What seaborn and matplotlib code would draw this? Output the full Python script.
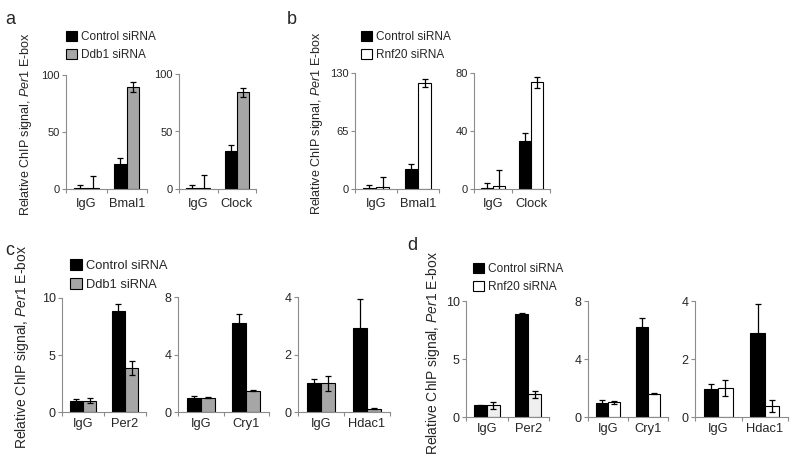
import pandas as pd
import matplotlib
matplotlib.use("Agg")
import matplotlib.pyplot as plt
from matplotlib.patches import Patch
import seaborn as sns


#### VALUES ####
# a : Ddb1 knockdown, Bmal1 / Clock ChIP
a_bmal_groups = ["IgG", "Bmal1"]
a_bmal_ctrl = [1.0, 22.0]
a_bmal_ctrl_err = [2.9, 5.5]
a_bmal_kd = [1.0, 89.5]
a_bmal_kd_err = [10.5, 4.5]

a_clock_groups = ["IgG", "Clock"]
a_clock_ctrl = [1.0, 33.0]
a_clock_ctrl_err = [2.5, 5.0]
a_clock_kd = [1.0, 84.0]
a_clock_kd_err = [11.0, 4.0]

# b : Rnf20 knockdown, Bmal1 / Clock ChIP
b_bmal_groups = ["IgG", "Bmal1"]
b_bmal_ctrl = [1.0, 22.0]
b_bmal_ctrl_err = [3.0, 5.5]
b_bmal_kd = [2.0, 119.0]
b_bmal_kd_err = [11.0, 4.5]

b_clock_groups = ["IgG", "Clock"]
b_clock_ctrl = [1.0, 33.0]
b_clock_ctrl_err = [3.0, 5.3]
b_clock_kd = [2.0, 73.5]
b_clock_kd_err = [11.0, 4.0]

# c : Ddb1 knockdown, Per2 / Cry1 / Hdac1 ChIP
c_per2_groups = ["IgG", "Per2"]
c_per2_ctrl = [1.0, 8.9]
c_per2_ctrl_err = [0.13, 0.6]
c_per2_kd = [1.0, 3.85]
c_per2_kd_err = [0.22, 0.63]

c_cry1_groups = ["IgG", "Cry1"]
c_cry1_ctrl = [0.97, 6.2]
c_cry1_ctrl_err = [0.15, 0.6]
c_cry1_kd = [0.99, 1.48]
c_cry1_kd_err = [0.03, 0.04]

c_hdac1_groups = ["IgG", "Hdac1"]
c_hdac1_ctrl = [1.0, 2.92]
c_hdac1_ctrl_err = [0.14, 1.0]
c_hdac1_kd = [1.0, 0.12]
c_hdac1_kd_err = [0.26, 0.02]

# d : Rnf20 knockdown, Per2 / Cry1 / Hdac1 ChIP
d_per2_groups = ["IgG", "Per2"]
d_per2_ctrl = [1.0, 8.9]
d_per2_ctrl_err = [0.02, 0.1]
d_per2_kd = [1.0, 1.96]
d_per2_kd_err = [0.32, 0.28]

d_cry1_groups = ["IgG", "Cry1"]
d_cry1_ctrl = [1.0, 6.2]
d_cry1_ctrl_err = [0.15, 0.62]
d_cry1_kd = [1.02, 1.62]
d_cry1_kd_err = [0.1, 0.05]

d_hdac1_groups = ["IgG", "Hdac1"]
d_hdac1_ctrl = [0.98, 2.9]
d_hdac1_ctrl_err = [0.15, 1.0]
d_hdac1_kd = [1.0, 0.38]
d_hdac1_kd_err = [0.28, 0.2]

ctrl_label = "Control siRNA"
ddb1_label = "Ddb1 siRNA"
rnf20_label = "Rnf20 siRNA"


sns.set_style("ticks")
plt.rcParams["font.family"] = ["Liberation Sans", "DejaVu Sans"]
plt.rcParams["mathtext.fontset"] = "custom"
plt.rcParams["mathtext.rm"] = "Liberation Sans"
plt.rcParams["mathtext.it"] = "Liberation Sans:italic"

W, H = 800, 461
fig = plt.figure(figsize=(8, 4.61), dpi=100)


def px_axes(x0, x1, ytop, yzero):
    return fig.add_axes([x0 / W, 1 - yzero / H, (x1 - x0) / W, (yzero - ytop) / H])


def draw_sub(ax, groups, ctrl, ctrl_err, kd, kd_err, kd_label, kd_color, yticks, tsize, xpad):
    df = pd.DataFrame({
        "target": groups + groups,
        "value": ctrl + kd,
        "cond": [ctrl_label] * len(groups) + [kd_label] * len(groups),
    })
    sns.barplot(data=df, x="target", y="value", hue="cond",
                palette=["black", kd_color], width=0.62, edgecolor="black",
                linewidth=0.8, errorbar=None, legend=False, ax=ax,
                saturation=1)
    for cont, errs in zip(ax.containers, [ctrl_err, kd_err]):
        xs = [b.get_x() + b.get_width() / 2 for b in cont]
        hs = [b.get_height() for b in cont]
        ax.errorbar(xs, hs, yerr=errs, fmt="none", ecolor="black",
                    elinewidth=0.9, capsize=2.5, capthick=0.9, zorder=3)
    ax.set_xlim(-0.5, len(groups) - 0.5)
    ax.set_ylim(0, yticks[-1])
    ax.set_yticks(yticks)
    ax.set_xticks(range(len(groups)))
    ax.set_xticks([i - 0.5 for i in range(len(groups) + 1)], minor=True)
    ax.tick_params(axis="x", which="major", length=0, pad=xpad, labelsize=9.3)
    ax.tick_params(axis="x", which="minor", length=3, color="#8c8c8c", width=0.8)
    ax.tick_params(axis="y", length=3, pad=1.5, labelsize=tsize, color="#8c8c8c", width=0.8)
    ax.set_xlabel("")
    ax.set_ylabel("")
    sns.despine(ax=ax)
    for s in ["left", "bottom"]:
        ax.spines[s].set_color("#8c8c8c")
        ax.spines[s].set_linewidth(0.8)
    ax.patch.set_alpha(0)


def add_legend(x, y, kd_label, kd_color, size):
    handles = [Patch(facecolor="black", edgecolor="black", linewidth=0.8),
               Patch(facecolor=kd_color, edgecolor="black", linewidth=0.8)]
    fig.legend(handles, [ctrl_label, kd_label], loc="upper left",
               bbox_to_anchor=(x / W, 1 - y / H), frameon=False,
               handlelength=0.9, handleheight=0.9, handletextpad=0.35,
               labelspacing=0.5, borderpad=0, borderaxespad=0, fontsize=size)


ylab = "Relative ChIP signal, $\\it{Per1}$ E-box"
gray = "#a6a6a6"

#### a ####
ax = px_axes(66, 147, 75, 189)
draw_sub(ax, a_bmal_groups, a_bmal_ctrl, a_bmal_ctrl_err, a_bmal_kd, a_bmal_kd_err,
         ddb1_label, gray, [0, 50, 100], 8, 6.5)
ax = px_axes(179, 256, 74, 189)
draw_sub(ax, a_clock_groups, a_clock_ctrl, a_clock_ctrl_err, a_clock_kd, a_clock_kd_err,
         ddb1_label, gray, [0, 50, 100], 8, 6.5)
add_legend(66, 31, ddb1_label, gray, 8.5)
fig.text(26 / W, 1 - 124 / H, ylab, rotation=90, ha="center", va="center", fontsize=9)
fig.text(5 / W, 1 - 19 / H, "a", ha="left", va="center", fontsize=13)

#### b ####
ax = px_axes(355, 439, 73, 189)
draw_sub(ax, b_bmal_groups, b_bmal_ctrl, b_bmal_ctrl_err, b_bmal_kd, b_bmal_kd_err,
         rnf20_label, "white", [0, 65, 130], 8, 6.5)
ax = px_axes(474, 550, 73, 189)
draw_sub(ax, b_clock_groups, b_clock_ctrl, b_clock_ctrl_err, b_clock_kd, b_clock_kd_err,
         rnf20_label, "white", [0, 40, 80], 8, 6.5)
add_legend(361, 31, rnf20_label, "white", 8.5)
fig.text(317 / W, 1 - 123 / H, ylab, rotation=90, ha="center", va="center", fontsize=9)
fig.text(287 / W, 1 - 19 / H, "b", ha="left", va="center", fontsize=13)

#### c ####
ax = px_axes(62, 146, 298, 412)
draw_sub(ax, c_per2_groups, c_per2_ctrl, c_per2_ctrl_err, c_per2_kd, c_per2_kd_err,
         ddb1_label, gray, [0, 5, 10], 9, 4.5)
ax = px_axes(178, 269, 297, 412)
draw_sub(ax, c_cry1_groups, c_cry1_ctrl, c_cry1_ctrl_err, c_cry1_kd, c_cry1_kd_err,
         ddb1_label, gray, [0, 4, 8], 9, 4.5)
ax = px_axes(298, 390, 297, 412)
draw_sub(ax, c_hdac1_groups, c_hdac1_ctrl, c_hdac1_ctrl_err, c_hdac1_kd, c_hdac1_kd_err,
         ddb1_label, gray, [0, 2, 4], 9, 4.5)
add_legend(70, 259, ddb1_label, gray, 9.3)
fig.text(22 / W, 1 - 347 / H, ylab, rotation=90, ha="center", va="center", fontsize=10)
fig.text(5 / W, 1 - 250 / H, "c", ha="left", va="center", fontsize=13)

#### d ####
ax = px_axes(466, 549, 301, 417)
draw_sub(ax, d_per2_groups, d_per2_ctrl, d_per2_ctrl_err, d_per2_kd, d_per2_kd_err,
         rnf20_label, "#efefef", [0, 5, 10], 9, 4.5)
ax = px_axes(588, 668, 301, 417)
draw_sub(ax, d_cry1_groups, d_cry1_ctrl, d_cry1_ctrl_err, d_cry1_kd, d_cry1_kd_err,
         rnf20_label, "white", [0, 4, 8], 9, 4.5)
ax = px_axes(695, 788, 301, 417)
draw_sub(ax, d_hdac1_groups, d_hdac1_ctrl, d_hdac1_ctrl_err, d_hdac1_kd, d_hdac1_kd_err,
         rnf20_label, "white", [0, 2, 4], 9, 4.5)
add_legend(473, 263, rnf20_label, "white", 8.6)
fig.text(433 / W, 1 - 353 / H, ylab, rotation=90, ha="center", va="center", fontsize=10)
fig.text(407 / W, 1 - 245 / H, "d", ha="left", va="center", fontsize=13)

fig.savefig("out.png", dpi=100)
plt.close()
